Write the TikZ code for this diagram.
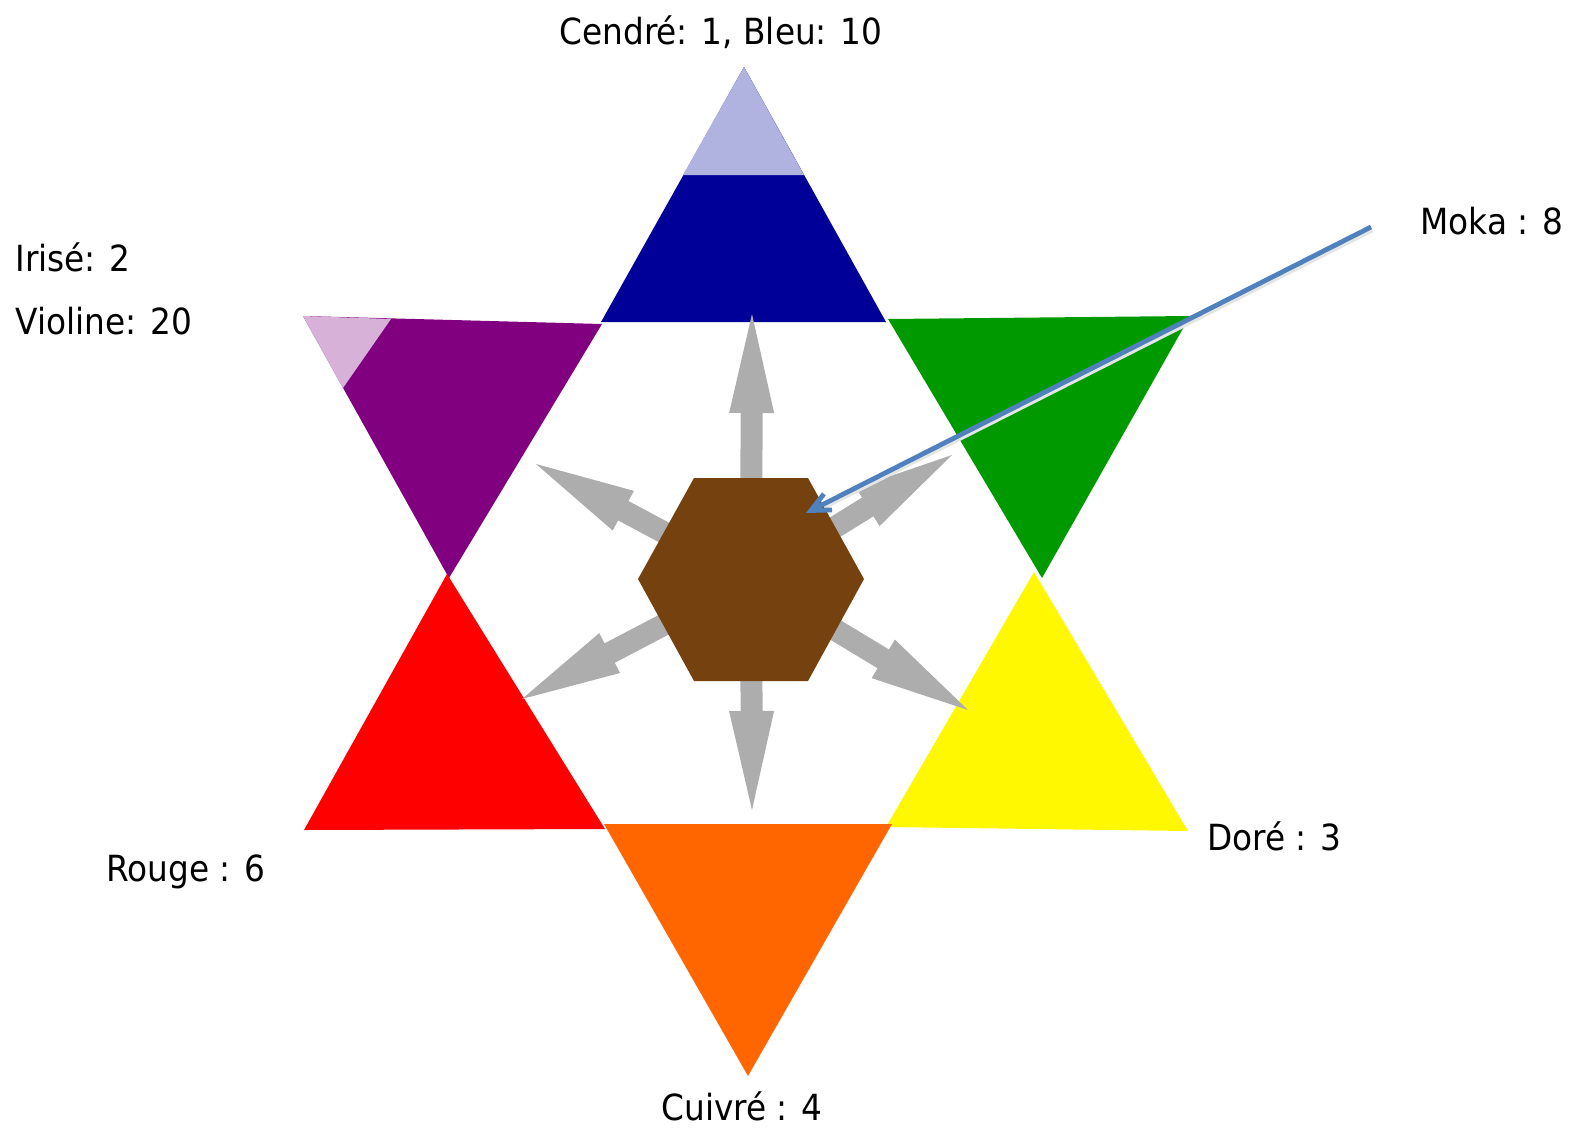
\documentclass[tikz,border=0pt]{standalone}
\usepackage{fontspec}
\setmainfont{DejaVu Sans}[FakeStretch=0.91]
\usetikzlibrary{calc,arrows.meta}
\definecolor{bleu}{HTML}{000099}
\definecolor{cendre}{HTML}{B0B3E0}
\definecolor{violine}{HTML}{800080}
\definecolor{irise}{HTML}{D8B1D8}
\definecolor{vert}{HTML}{009900}
\definecolor{dore}{HTML}{FFF800}
\definecolor{cuivre}{HTML}{FF6600}
\definecolor{rouge}{HTML}{FF0000}
\definecolor{moka}{HTML}{75420F}
\definecolor{arrowgray}{HTML}{ADADAD}
\definecolor{mokablue}{HTML}{4F81BD}
\tikzset{
  lbl/.style={anchor=base west, inner sep=0pt, font=\fontsize{18pt}{20pt}\selectfont},
  lblc/.style={lbl, anchor=base},
  mokaline/.style={draw=mokablue, line width=2.4pt,
    -{Straight Barb[length=9.5pt,width=9pt]}},
  shadowline/.style={draw=black!10, line width=2.4pt},
}
\newcommand\blockarr[2]{%
  \coordinate (#2-b) at ($(#2)!49.5pt!(#1)$);
  \fill[arrowgray] ($(#1)!5.5pt!90:(#2)$) -- ($(#2-b)!5.5pt!90:(#2)$)
    -- ($(#2-b)!11.25pt!90:(#2)$) -- (#2) -- ($(#2-b)!11.25pt!-90:(#2)$)
    -- ($(#2-b)!5.5pt!-90:(#2)$) -- ($(#1)!5.5pt!-90:(#2)$) -- cycle;}
\begin{document}
\begin{tikzpicture}[x=0.5pt,y=-0.5pt]
\useasboundingbox (0,0) rectangle (1573,1130);
% triangles
\fill[bleu] (744,67) -- (601,322) -- (886,322) -- cycle;
\fill[cendre] (744,67) -- (683,175) -- (804,175) -- cycle;
\fill[violine] (303,316) -- (602,324) -- (449,578) -- cycle;
\fill[irise] (303,316) -- (391,319) -- (343,388) -- cycle;
\fill[vert] (888,319) -- (1190,316) -- (1042,578) -- cycle;
\fill[dore] (1034,572) -- (886,827) -- (1188,831) -- cycle;
\fill[cuivre] (604,824) -- (892,824) -- (748,1076) -- cycle;
\fill[rouge] (447,574) -- (304,830) -- (605,829) -- cycle;
% arrows from the centre
\coordinate (hc) at (751,579);
\coordinate (tU) at (752,314);
\coordinate (tD) at (752,810);
\coordinate (tUL) at (536,464);
\coordinate (tUR) at (952,455);
\coordinate (tLR) at (968,710);
\coordinate (tLL) at (522,699);
\blockarr{hc}{tU}
\blockarr{hc}{tD}
\blockarr{hc}{tUL}
\blockarr{hc}{tUR}
\blockarr{hc}{tLR}
\blockarr{hc}{tLL}
% hexagon
\fill[moka] (694,478) -- (808,478) -- (864,579) -- (808,681) -- (694,681) -- (638,579) -- cycle;
% Moka pointer
\coordinate (ms) at (1371,227);
\coordinate (me) at (806,513);
\draw[shadowline] ($(ms)+(1,3)$) -- ($(me)+(18,-6)$);
\draw[mokaline] (ms) -- (me);
% labels
\node[lblc] (cendre) at (721,44) {Cendré: 1, Bleu: 10};
\node[lbl] (mokat) at (1420,234) {Moka : 8};
\node[lbl] (irise) at (15,271) {Irisé: 2};
\node[lbl] (violine) at (15,334) {Violine: 20};
\node[lbl] (rouge) at (106,881) {Rouge : 6};
\node[lbl] (dore) at (1207,850) {Doré : 3};
\node[lblc] (cuivre) at (742,1120) {Cuivré : 4};
\end{tikzpicture}
\end{document}
